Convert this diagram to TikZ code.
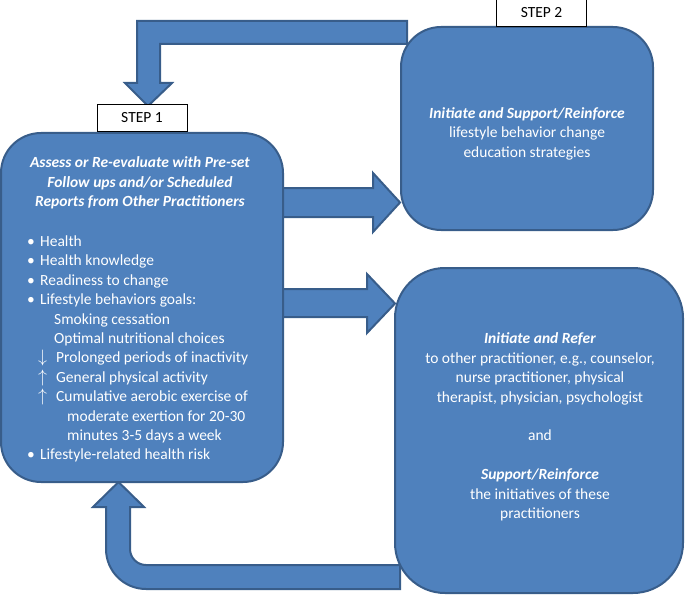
\documentclass[tikz,border=0pt]{standalone}
\usepackage{fontspec}
\setmainfont{Carlito}
\usetikzlibrary{positioning}
\definecolor{boxblue}{HTML}{4F81BD}
\definecolor{edgeblue}{HTML}{385D8A}
\tikzset{
  stepbox/.style={draw=edgeblue, fill=boxblue, line width=2pt, rounded corners=#1, inner sep=0pt},
  steptag/.style={draw=black, fill=white, line width=1pt, minimum width=90pt, minimum height=27pt, inner sep=0pt, font=\fontsize{15.5}{19.4}\selectfont},
  bigarrow/.style={draw=edgeblue, fill=boxblue, line width=2pt, line join=miter},
  boxtext/.style={text=white, inner sep=0pt, font=\fontsize{15.5}{19.4}\selectfont}
}
\newcommand\bitem{\makebox[13pt][l]{\textbullet}}
\newcommand\upitem[1]{\hspace*{11pt}\makebox[18pt][l]{\scalebox{1.25}{$#1$}}}
\begin{document}
\begin{tikzpicture}[x=1pt,y=-1pt]
\useasboundingbox (0,0) rectangle (685,599);
% block arrows behind the boxes
\draw[bigarrow] (407,21) -- (137,21) -- (137,83) -- (125,83) -- (148,106) -- (172,83) -- (160,83) -- (160,44) -- (407,44) -- cycle;
\draw[bigarrow] (270,188) -- (373,188) -- (373,173) -- (400,202.5) -- (373,232) -- (373,217) -- (270,217) -- cycle;
\draw[bigarrow] (270,289) -- (367,289) -- (367,274) -- (395,303.5) -- (367,333) -- (367,317) -- (270,317) -- cycle;
\draw[bigarrow] (400,589) -- (146,589) .. controls (123.9,589) and (106,571.1) .. (106,549) -- (106,507) -- (93,507) -- (118.5,482) -- (144,507) -- (130,507) -- (130,549) .. controls (130,557.8) and (137.2,565) .. (146,565) -- (400,565) -- cycle;
% steps
\node[stepbox=40pt, minimum width=282pt, minimum height=349pt] (s1) at (142,307.5) {};
\node[stepbox=40pt, minimum width=252pt, minimum height=203pt] (s2) at (527,128.5) {};
\node[stepbox=50pt, minimum width=288pt, minimum height=325pt] (s3) at (539,430.5) {};
\node[steptag, above=0pt of s1] (t1) {STEP 1};
\node[steptag, above=-1pt of s2, xshift=14.5pt] (t2) {STEP 2};
% texts
\node[boxtext, align=center] (h1) at (140,183) {\textbf{\textit{Assess or Re-evaluate with Pre-set}}\\\textbf{\textit{Follow ups and/or Scheduled}}\\\textbf{\textit{Reports from Other Practitioners}}};
\node[boxtext, align=left, anchor=north west] (l1) at (27,235.5) {\bitem Health\\
\bitem Health knowledge\\
\bitem Readiness to change\\
\bitem Lifestyle behaviors goals:\\
\hspace*{27pt}Smoking cessation\\
\hspace*{27pt}Optimal nutritional choices\\
\upitem{\downarrow}Prolonged periods of inactivity\\
\upitem{\uparrow}General physical activity\\
\upitem{\uparrow}Cumulative aerobic exercise of\\
\hspace*{40pt}moderate exertion for 20-30\\
\hspace*{40pt}minutes 3-5 days a week\\
\bitem Lifestyle-related health risk};
\node[boxtext, align=center] (x2) at (527,133.5) {\textbf{\textit{Initiate and Support/Reinforce}}\\lifestyle behavior change\\education strategies};
\node[boxtext, align=center] (x3) at (540,427) {\textbf{\textit{Initiate and Refer}}\\to other practitioner, e.g., counselor,\\nurse practitioner, physical\\therapist, physician, psychologist\\[19.4pt]and\\[19.4pt]\textbf{\textit{Support/Reinforce}}\\the initiatives of these\\practitioners};
\end{tikzpicture}
\end{document}
